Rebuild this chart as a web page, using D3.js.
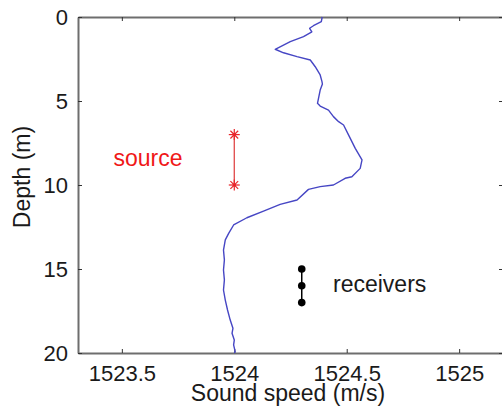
<!DOCTYPE html>
<html>
<head>
<meta charset="utf-8">
<script src="https://cdn.jsdelivr.net/npm/d3@7"></script>
<style>
  html, body { margin: 0; padding: 0; background: #fff; }
  svg { display: block; }
  text { font-family: "Liberation Sans", Arial, sans-serif; fill: #1a1a1a; }
</style>
</head>
<body>
<svg id="chart" width="502" height="417"></svg>
<script>
// Sound speed profile: depth (m) and sound speed (m/s)
const depth = [0, 0.28, 0.52, 0.67, 0.88, 1.17, 1.47, 1.92, 2.13, 2.36, 2.56, 2.96, 3.45, 3.85, 3.99,
  4.35, 5.14, 5.30, 5.54, 5.93, 6.23, 6.43, 7.02, 7.82, 8.51, 9.01, 9.51, 9.60, 10.0, 10.10,
  10.26, 10.89, 11.15, 11.55, 11.95, 12.38, 12.88, 13.27, 13.87, 14.46, 15.06, 15.65, 16.25,
  16.85, 17.44, 18.04, 18.53, 18.83, 19.23, 19.52, 19.92, 20.0];
const speed = [1524.391, 1524.387, 1524.352, 1524.335, 1524.345, 1524.308, 1524.249, 1524.182,
  1524.219, 1524.279, 1524.338, 1524.360, 1524.382, 1524.390, 1524.392, 1524.382, 1524.370,
  1524.382, 1524.419, 1524.441, 1524.464, 1524.486, 1524.508, 1524.538, 1524.568, 1524.560,
  1524.523, 1524.493, 1524.441, 1524.382, 1524.330, 1524.279, 1524.204, 1524.130, 1524.056,
  1523.997, 1523.975, 1523.960, 1523.952, 1523.956, 1523.952, 1523.956, 1523.952, 1523.960,
  1523.970, 1523.982, 1523.994, 1523.990, 1524.000, 1523.997, 1524.004, 1524.000];

// Source depths (top and bottom of the vertical array) and its speed position
const sourceSpeed = 1524.0;
const sourceDepths = [7, 10];
// Receiver depths
const receiverSpeed = 1524.3;
const receiverDepths = [15, 16, 17];

// Axis ticks
const xTicks = [1523.5, 1524, 1524.5, 1525];
const yTicks = [0, 5, 10, 15, 20];
const xDomain = [1523.305, 1525.195];
const yDomain = [0, 20];

const svg = d3.select("#chart");
const m = { left: 78, right: 503, top: 17, bottom: 353 };

const x = d3.scaleLinear().domain(xDomain).range([m.left, m.right]);
const y = d3.scaleLinear().domain(yDomain).range([m.top, m.bottom]);

const axisColor = "#6e6e6e";
const fontSize = 22;

// Boxed axes with inward ticks
function styleAxis(g, showLabels) {
  g.select(".domain").attr("stroke", axisColor).attr("stroke-width", 2);
  g.selectAll(".tick line").attr("stroke", "#333").attr("stroke-width", 1);
  g.selectAll(".tick text")
    .style("font-size", fontSize + "px")
    .attr("fill", "#1a1a1a")
    .attr("font-family", "Liberation Sans, Arial, sans-serif")
    .style("display", showLabels ? null : "none");
}

svg.append("g")
  .attr("transform", `translate(0,${m.bottom})`)
  .call(d3.axisBottom(x).tickValues(xTicks).tickFormat(d3.format("")).tickSizeInner(-4).tickSizeOuter(0).tickPadding(12))
  .call(g => styleAxis(g, true));

svg.append("g")
  .attr("transform", `translate(0,${m.top})`)
  .call(d3.axisTop(x).tickValues(xTicks).tickSizeInner(-4).tickSizeOuter(0))
  .call(g => styleAxis(g, false));

svg.append("g")
  .attr("transform", `translate(${m.left},0)`)
  .call(d3.axisLeft(y).tickValues(yTicks).tickFormat(d3.format("d")).tickSizeInner(-4).tickSizeOuter(0).tickPadding(10))
  .call(g => styleAxis(g, true));

svg.append("g")
  .attr("transform", `translate(${m.right},0)`)
  .call(d3.axisRight(y).tickValues(yTicks).tickSizeInner(-4).tickSizeOuter(0))
  .call(g => styleAxis(g, false));

// Axis titles
svg.append("text")
  .attr("x", 288)
  .attr("y", 401)
  .attr("text-anchor", "middle")
  .style("font-size", "23px")
  .text("Sound speed (m/s)");

svg.append("text")
  .attr("transform", `translate(30,177) rotate(-90)`)
  .attr("text-anchor", "middle")
  .style("font-size", "23px")
  .text("Depth (m)");

// Sound speed profile
const line = d3.line()
  .x((d, i) => x(speed[i]))
  .y((d, i) => y(depth[i]));

svg.append("path")
  .datum(depth)
  .attr("d", line)
  .attr("fill", "none")
  .attr("stroke", "#4646c4")
  .attr("stroke-width", 1.4)
  .attr("stroke-linejoin", "round");

// Source: vertical segment with asterisk markers
const red = "#e8262b";
svg.append("line")
  .attr("x1", x(sourceSpeed)).attr("x2", x(sourceSpeed))
  .attr("y1", y(sourceDepths[0])).attr("y2", y(sourceDepths[1]))
  .attr("stroke", "#e04848").attr("stroke-width", 1.3);

svg.selectAll(".src")
  .data(sourceDepths)
  .join("g")
  .attr("class", "src")
  .attr("transform", d => `translate(${x(sourceSpeed)},${y(d)})`)
  .each(function () {
    const g = d3.select(this);
    const r = 5.5;
    [0, 45, 90, 135].forEach(a => {
      const rad = a * Math.PI / 180;
      g.append("line")
        .attr("x1", -r * Math.cos(rad)).attr("y1", -r * Math.sin(rad))
        .attr("x2", r * Math.cos(rad)).attr("y2", r * Math.sin(rad))
        .attr("stroke", red).attr("stroke-width", 1.2);
    });
    g.append("circle").attr("r", 1.8).attr("fill", red);
  });

svg.append("text")
  .attr("x", 148)
  .attr("y", 166)
  .attr("text-anchor", "middle")
  .style("font-size", "23px")
  .style("fill", "#f01818")
  .text("source");

// Receivers: vertical line with dot markers
svg.append("line")
  .attr("x1", x(receiverSpeed)).attr("x2", x(receiverSpeed))
  .attr("y1", y(receiverDepths[0])).attr("y2", y(receiverDepths[receiverDepths.length - 1]))
  .attr("stroke", "#000").attr("stroke-width", 1.5);

svg.selectAll(".rcv")
  .data(receiverDepths)
  .join("circle")
  .attr("class", "rcv")
  .attr("cx", x(receiverSpeed))
  .attr("cy", d => y(d))
  .attr("r", 3.8)
  .attr("fill", "#000");

svg.append("text")
  .attr("x", 333)
  .attr("y", 292)
  .style("font-size", "23px")
  .text("receivers");
</script>
</body>
</html>
